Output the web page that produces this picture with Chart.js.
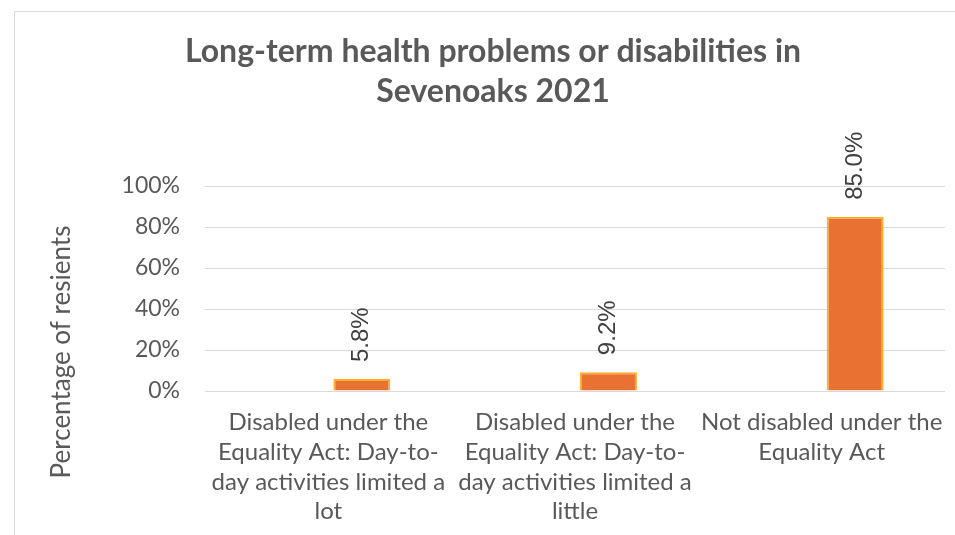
<!DOCTYPE html>
<html>
<head>
<meta charset="utf-8">
<script src="https://cdn.jsdelivr.net/npm/chart.js@4"></script>
<style>
  html, body { margin: 0; padding: 0; background: #fff; }
  canvas { display: block; }
</style>
</head>
<body>
<canvas id="myChart" width="955" height="535"></canvas>
<script>
// chart data
const titleLines = ['Long-term health problems or disabilities in', 'Sevenoaks 2021'];
const yAxisTitle = 'Percentage of resients';
const categories = [
	['Disabled under the', 'Equality Act: Day-to-', 'day activities limited a', 'lot'],
	['Disabled under the', 'Equality Act: Day-to-', 'day activities limited a', 'little'],
	['Not disabled under the', 'Equality Act']
];
const emptySeries = [null, null, null];
const residents = [5.8, 9.2, 85.0];
const yTicks = [0, 20, 40, 60, 80, 100];

const textGrey = '#595959';

// frame around the whole chart, rotated axis title and value labels
const extras = {
	id: 'extras',
	beforeDraw(chart) {
		const c = chart.ctx;
		c.save();
		c.strokeStyle = '#d9d9d9';
		c.lineWidth = 1;
		c.strokeRect(14.5, 11.5, 1200, 1200);
		c.restore();
	},
	afterDraw(chart) {
		const c = chart.ctx;
		c.save();
		c.fillStyle = textGrey;
		c.font = '26px Lato';
		c.textAlign = 'center';
		c.textBaseline = 'middle';
		c.translate(62, 352);
		c.rotate(-Math.PI / 2);
		c.fillText(yAxisTitle, 0, 0);
		c.restore();

		const meta = chart.getDatasetMeta(1);
		c.save();
		c.fillStyle = '#404040';
		c.font = '24px "Liberation Sans"';
		c.textAlign = 'left';
		c.textBaseline = 'middle';
		meta.data.forEach(function(bar, i) {
			c.save();
			c.translate(bar.x, bar.y - 17);
			c.rotate(-Math.PI / 2);
			c.fillText(residents[i].toFixed(1) + '%', 0, 0);
			c.restore();
		});
		c.restore();
	}
};

const ctx = document.getElementById('myChart');

const myChart = new Chart(ctx, {
	type: 'bar',
	data: {
		labels: categories,
		datasets: [{
			label: '',
			data: emptySeries
		}, {
			label: 'Percentage of residents',
			data: residents,
			backgroundColor: '#E97132',
			borderColor: '#FFAE2B',
			borderWidth: 2
		}]
	},
	options: {
		responsive: false,
		animation: false,
		categoryPercentage: 0.543,
		barPercentage: 0.85,
		layout: {
			padding: { left: 41, right: 10, top: 0, bottom: 0 }
		},
		plugins: {
			legend: { display: false },
			tooltip: { enabled: false },
			title: {
				display: true,
				text: titleLines,
				color: textGrey,
				font: { family: 'Lato', size: 32, weight: 'bold', lineHeight: 1.25 },
				padding: { top: 32, bottom: 74 }
			}
		},
		scales: {
			x: {
				grid: { display: false },
				border: { display: false },
				ticks: {
					color: textGrey,
					font: { family: 'Lato', size: 24, lineHeight: 1.23 },
					padding: 9,
					maxRotation: 0,
					autoSkip: false
				},
				afterFit(scale) {
					scale.height = 144;
					scale.paddingLeft = 0;
					scale.paddingRight = 0;
				}
			},
			y: {
				min: 0,
				max: 100,
				afterBuildTicks(scale) {
					scale.ticks = yTicks.map(function(v) { return { value: v }; });
				},
				grid: { color: '#d9d9d9', lineWidth: 1, drawTicks: false },
				border: { display: false },
				ticks: {
					color: textGrey,
					font: { family: 'Lato', size: 23 },
					padding: 25,
					callback: function(v) { return v + '%'; }
				},
				afterFit(scale) {
					scale.width = 164;
				}
			}
		}
	},
	plugins: [extras]
});
</script>
</body>
</html>
